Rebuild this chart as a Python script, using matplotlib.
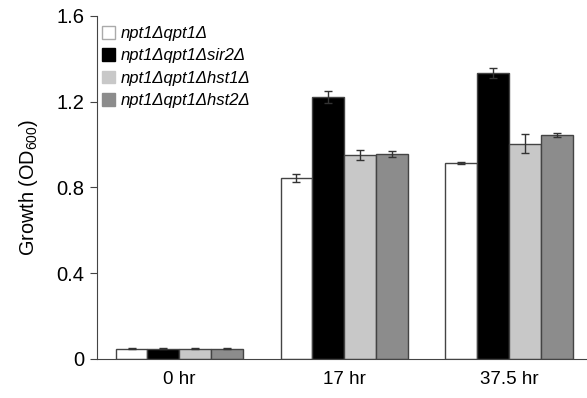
import numpy as np
import matplotlib
matplotlib.use('Agg')
import matplotlib.pyplot as plt
from matplotlib.patches import Patch

plt.rcParams['font.family'] = ['Liberation Sans', 'DejaVu Sans']
plt.rcParams['mathtext.fontset'] = 'custom'
plt.rcParams['mathtext.rm'] = 'Liberation Sans'

# ── data ──────────────────────────────────────────────────────────────────────
times = ['0 hr', '17 hr', '37.5 hr']
strains = ['npt1Δqpt1Δ', 'npt1Δqpt1Δsir2Δ', 'npt1Δqpt1Δhst1Δ', 'npt1Δqpt1Δhst2Δ']
colors = ['white', 'black', '#c8c8c8', '#8c8c8c']

growth = [
    [0.048, 0.845, 0.913],   # npt1Δqpt1Δ
    [0.048, 1.220, 1.333],   # sir2Δ
    [0.048, 0.950, 1.003],   # hst1Δ
    [0.048, 0.956, 1.046],   # hst2Δ
]
err = [
    [0.003, 0.018, 0.004],
    [0.003, 0.028, 0.023],
    [0.003, 0.024, 0.044],
    [0.003, 0.016, 0.010],
]

# ── plot ──────────────────────────────────────────────────────────────────────
fig = plt.figure(figsize=(5.87, 3.98), dpi=100)
ax = fig.add_axes([0.165, 0.098, 0.833, 0.862])

x = np.arange(len(times))
w = 0.193
for i, (vals, e, c) in enumerate(zip(growth, err, colors)):
    pos = x + (i - 1.5) * w
    ax.bar(pos, vals, width=w, color=c, edgecolor='#444444', linewidth=1.0,
           yerr=e, ecolor='#333333', capsize=3, error_kw={'elinewidth': 1, 'capthick': 1})

ax.set_xlim(-0.5, 2.465)
ax.set_ylim(0, 1.6)
ax.set_yticks([0, 0.4, 0.8, 1.2, 1.6])
ax.set_yticklabels(['0', '0.4', '0.8', '1.2', '1.6'])
ax.set_xticks(x)
ax.set_xticklabels(times)
ax.tick_params(axis='x', length=0, labelsize=13.5, pad=9)
ax.tick_params(axis='y', length=5, labelsize=14.5, color='#444444', pad=4)
ax.set_ylabel('Growth (OD$_{\\mathregular{600}}$)', fontsize=14.3, labelpad=12)

for s in ['top', 'right']:
    ax.spines[s].set_visible(False)
for s in ['left', 'bottom']:
    ax.spines[s].set_color('#444444')

handles = [Patch(facecolor=c, edgecolor='#aaaaaa' if c == 'white' else c) for c in colors]
ax.legend(handles, strains, loc='upper left', bbox_to_anchor=(-0.01, 1.0),
          frameon=False, prop={'style': 'italic', 'size': 12},
          handlelength=0.8, handleheight=0.8, handletextpad=0.3,
          labelspacing=0.43, borderaxespad=0.2)

plt.savefig('out.png', dpi=100)
plt.close()
